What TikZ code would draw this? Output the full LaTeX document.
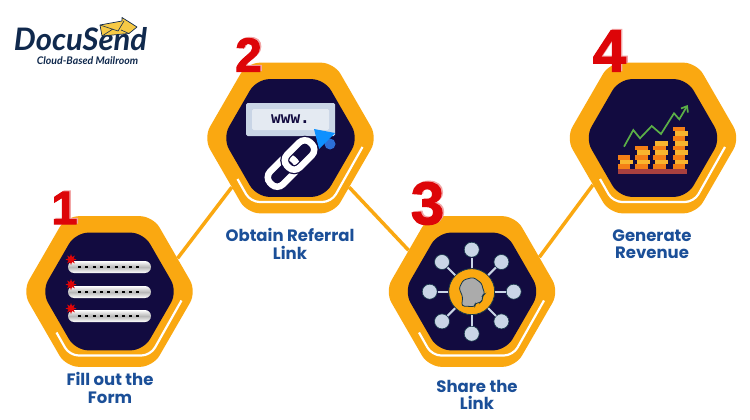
\documentclass[tikz,border=0pt]{standalone}
\usepackage{fontspec}
\setmainfont{Poppins}
\newfontfamily\numfont{Liberation Sans}[BoldFeatures={FakeBold=2}]
\newfontfamily\logofont{Lato}
\newfontfamily\barfont{DejaVu Sans Mono}
\usetikzlibrary{calc,shapes.geometric,arrows.meta}
\definecolor{ringorange}{HTML}{FAA811}
\definecolor{hexnavy}{HTML}{120B40}
\definecolor{titleblue}{HTML}{1B4F98}
\definecolor{numred}{HTML}{DD0508}
\definecolor{numpink}{HTML}{F2A6A6}
\definecolor{logonavy}{HTML}{10294D}
\definecolor{logoyellow}{HTML}{F6C945}
\definecolor{paleblue}{HTML}{C9D5E6}
\definecolor{coinorange}{HTML}{F47F16}
\definecolor{coinyellow}{HTML}{F9B52E}
\definecolor{coinbase}{HTML}{A8403F}
\definecolor{hubedge}{HTML}{17384A}
\definecolor{chartgreen}{HTML}{5BAF47}
\definecolor{cursorblue}{HTML}{0E90FF}
\definecolor{cursordark}{HTML}{2C6FD8}
\tikzset{
  ringhex/.style={regular polygon,regular polygon sides=6,minimum size=174,
    inner sep=0,fill=ringorange,rounded corners=13},
  corehex/.style={regular polygon,regular polygon sides=6,minimum size=136,
    inner sep=0,fill=hexnavy,rounded corners=13},
  stepnum/.style={font=\numfont\bfseries\fontsize{#1}{#1}\selectfont,text=numred,inner sep=0},
  steptitle/.style={font=\bfseries\fontsize{16.5}{17.5}\selectfont,text=titleblue,
    align=center,inner sep=0},
  linkline/.style={draw=ringorange,line width=3.5},
  swoosh/.style={draw=white,line width=2.2,rounded corners=9},
  fieldbar/.style={rectangle,rounded corners=6,minimum width=83,minimum height=12,
    inner sep=0,top color=white,bottom color=white,middle color=black!28},
  fielddots/.style={draw=black,line width=2,dash pattern=on 3pt off 4.3pt},
  redmark/.style={star,star points=8,star point ratio=2,minimum size=11,inner sep=0,fill=numred},
  chainlink/.style={rectangle,rotate=45,minimum width=33,minimum height=18,inner sep=0,
    draw=white,line width=6.5,rounded corners=8},
  hubspoke/.style={draw=paleblue,line width=2},
  hubdot/.style={circle,minimum size=15,inner sep=0,fill=paleblue,draw=hubedge,line width=.6},
}
\begin{document}
\begin{tikzpicture}[x=1pt,y=-1pt]
  \path [use as bounding box,fill=white] (0,0) rectangle (750,420);

  % Rings and their dark centres
  \node (hex1) [ringhex] at (109.5,291.5) {};
  \node (hex2) [ringhex] at (290.5,138) {};
  \node (hex3) [ringhex] at (472,291.5) {};
  \node (hex4) [ringhex] at (653,138) {};
  \foreach \i in {1,...,4} {
    \node (core\i) [corehex] at (hex\i.center) {};
    \draw [swoosh] ([shift={(-53,41)}]hex\i.center) -- ([shift={(-40,64)}]hex\i.center)
      -- ([shift={(41,64)}]hex\i.center) -- ([shift={(72,9)}]hex\i.center);
  }

  % Lines between the rings
  \draw [linkline] (hex1.26) -- (hex2.220);
  \draw [linkline] (hex2.-40) -- (hex3.147);
  \draw [linkline] (hex3.27) -- (hex4.218);

  % Step numbers, pale copy first
  \foreach \i/\nx/\ny/\nsize in {1/64.5/208/47,2/248.5/55/48,3/427.5/203.5/60,4/609.5/51/60} {
    \node (shade\i) [stepnum=\nsize,text=numpink] at (\nx+1.5,\ny-1) {\i};
    \node (num\i) [stepnum=\nsize] at (\nx,\ny) {\i};
  }

  % Step titles
  \node (title1) [steptitle] at (110,388) {Fill out the\\Form};
  \node (title2) [steptitle] at (290,244) {Obtain Referral\\Link};
  \node (title3) [steptitle] at (477,395) {Share the\\Link};
  \node (title4) [steptitle] at (652,244) {Generate\\Revenue};

  % Form fields
  \foreach \i/\fy in {1/267,2/292,3/316} {
    \node (field\i) [fieldbar] at (109.5,\fy) {};
    \draw [fielddots] ([xshift=-31.5]field\i.center) -- ([xshift=32]field\i.center);
    \node (mark\i) [redmark] at ([shift={(-38.5,-7.5)}]field\i.center) {};
  }

  % Address bar and cursor
  \node (bar) [rectangle,rounded corners=1.5,fill=paleblue,minimum width=89,minimum height=33,
    inner sep=0] at (290.5,119.5) {};
  \node (barin) [rectangle,rounded corners=1.5,fill=paleblue!50!white,minimum width=77,minimum height=21,
    inner sep=0,font=\barfont\bfseries\fontsize{16}{16}\selectfont,text=hexnavy] at (bar.center) {www.};
  \fill [cursordark] (330,144) circle (5.5);
  \fill [cursorblue] (314,129) -- (335,133) -- (319,149) -- cycle;

  % Chain
  \node (chainb) [chainlink] at (282.5,172) {};
  \node (chaina) [chainlink,preaction={draw=hexnavy,line width=9}] at (299.5,155) {};

  % Hub with eight spokes
  \node (hub) [circle,minimum size=46,inner sep=0,fill=ringorange,draw=hubedge,line width=.8]
    at (471.7,291.7) {};
  \foreach \a in {0,45,...,315} {
    \node (dot\a) [hubdot] at ($(hub.center)+(\a:42)$) {};
    \draw [hubspoke] (hub) -- (dot\a);
  }
  \draw [fill=black!33,draw=hubedge,line width=.8,rounded corners=2.5]
    (461.7,306) -- (462.7,296.7) -- (459,288.3) -- (463.3,280) -- (473.3,277.3) -- (481.7,283.3)
    -- (482.7,288.3) -- (485,294) -- (482.3,295.7) -- (482.7,300) -- (480,302.7) -- (475,303.3)
    -- (475,306.7) -- cycle;

  % Coin stacks on a bar, chart line above
  \fill [fill=coinbase] (618,169) rectangle (687,173.5);
  \foreach \cx/\coins in {625/3,642.5/5,660.5/6,680/9} {
    \foreach \c in {1,...,\coins} {
      \pgfmathsetmacro{\cy}{169-\c*4.7}
      \pgfmathsetmacro{\coinx}{\cx+1.2*(-1)^\c}
      \ifodd\c \def\coincol{coinorange}\else \def\coincol{coinyellow}\fi
      \fill [fill=\coincol] (\coinx-6.3,\cy) rectangle (\coinx+6.3,\cy+4.7);
    }
  }
  \draw [-{Straight Barb[length=5,width=8]},draw=chartgreen,line width=1.7]
    (624,146.7) -- (633.3,130) -- (640,138.3) -- (651.7,126) -- (661,134) -- (674,113.3)
    -- (679.3,119.3) -- (687.7,105);

  % Logo
  \node (logoword) [font=\logofont\bfseries\itshape\fontsize{31}{31}\selectfont,text=logonavy,inner sep=0]
    at (80.5,39) {DocuSend};
  \node (logoline) [font=\logofont\bfseries\itshape\fontsize{10.5}{10.5}\selectfont,text=logonavy,inner sep=0]
    at (87.5,60.5) {Cloud-Based Mailroom};
  \draw [fill=logoyellow,draw=logonavy,line width=.7,line join=round]
    (100,25) -- (122,21) -- (122,17.5) -- (137,27) -- (129,33.5) -- (102,36) -- cycle;
  \draw [draw=logonavy,line width=.6] (100,25) -- (118,31) -- (124,21) (102,36) -- (113,29) (129,33.5) -- (121,30);
\end{tikzpicture}
\end{document}
